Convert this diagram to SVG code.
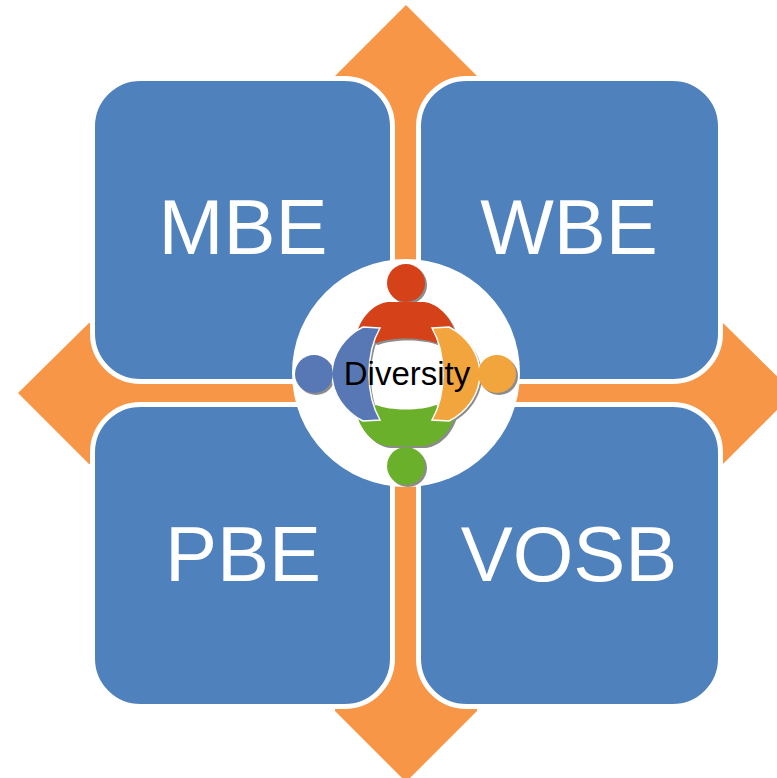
<svg xmlns="http://www.w3.org/2000/svg" width="777" height="778" viewBox="0 0 777 778">
<style>
.box{fill:#4F81BD;stroke:#FFFFFF;stroke-width:5}
.lbl{font-family:"Liberation Sans",Arial,sans-serif;font-size:78px;fill:#FFFFFF;text-anchor:middle}
.arrow{fill:#F79646}
.shadow{fill:#8C8C8C}
.div{font-family:"Liberation Sans",Arial,sans-serif;font-size:33px;fill:#000000;text-anchor:middle}
</style>
<defs>
<path id="bodyTop" d="M -50,-38 C -46,-55 -34,-70 -18,-72 L 18,-72 C 34,-70 46,-55 50,-38 L 30,-31 C 15,-37 -15,-37 -30,-31 Z"/>
<path id="bodyBottom" d="M -50,38 C -46,55 -34,70 -18,72 L 18,72 C 34,70 46,55 50,38 L 30,31 C 15,37 -15,37 -30,31 Z"/>
<path id="bodyLeft" d="M -26,-46 L -43,-47 C -61,-38 -74,-20 -74,0 C -74,20 -61,38 -43,47 L -26,46 C -34,32 -37,14 -37,0 C -37,-14 -34,-32 -26,-46 Z"/>
<path id="bodyRight" d="M 26,-46 L 43,-47 C 61,-38 74,-20 74,0 C 74,20 61,38 43,47 L 26,46 C 34,32 37,14 37,0 C 37,-14 34,-32 26,-46 Z"/>
</defs>
<rect width="777" height="778" fill="#FFFFFF"/>
<g id="arrows">
<path class="arrow" d="M 406,5 L 477,76 L 477,150 L 421,150 L 421,379 L 650,379 L 650,323 L 723,323 L 794,393 L 723,464 L 650,464 L 650,407 L 421,407 L 421,640 L 477,640 L 477,711 L 406,782 L 335,711 L 335,640 L 390,640 L 390,407 L 160,407 L 160,464 L 89,464 L 18,393 L 89,323 L 160,323 L 160,379 L 390,379 L 390,150 L 335,150 L 335,76 Z"/>
</g>
<g id="mbe">
<rect class="box" x="92.5" y="78.5" width="300" height="303" rx="48" ry="48"/>
<text class="lbl" x="243" y="254">MBE</text>
</g>
<g id="wbe">
<rect class="box" x="418.5" y="78.5" width="302" height="303" rx="48" ry="48"/>
<text class="lbl" x="569" y="254">WBE</text>
</g>
<g id="pbe">
<rect class="box" x="92.5" y="404.5" width="300" height="302" rx="48" ry="48"/>
<text class="lbl" x="243" y="581">PBE</text>
</g>
<g id="vosb">
<rect class="box" x="418.5" y="404.5" width="302" height="302" rx="48" ry="48"/>
<text class="lbl" x="569" y="581">VOSB</text>
</g>
<g id="diversity">
<circle cx="406" cy="373" r="114" fill="#FFFFFF"/>
<g transform="translate(408,376)" class="shadow">
<use href="#bodyTop"/>
<use href="#bodyBottom"/>
<use href="#bodyLeft"/>
<use href="#bodyRight"/>
<circle cx="0" cy="-91" r="19"/>
<circle cx="0" cy="92" r="19"/>
<circle cx="-92" cy="0" r="19"/>
<circle cx="91" cy="0" r="19"/>
</g>
<g transform="translate(406,374)">
<use href="#bodyTop" fill="#D5421A"/>
<use href="#bodyBottom" fill="#6BB02A"/>
<use href="#bodyLeft" fill="#5877B5" stroke="#FFFFFF" stroke-width="1.5"/>
<use href="#bodyRight" fill="#F2A53C" stroke="#FFFFFF" stroke-width="1.5"/>
<circle cx="0" cy="-91" r="19" fill="#D5421A"/>
<circle cx="0" cy="92" r="19" fill="#6BB02A"/>
<circle cx="-92" cy="0" r="19" fill="#5877B5"/>
<circle cx="91" cy="0" r="19" fill="#F2A53C"/>
</g>
<text class="div" x="407" y="385">Diversity</text>
</g>
</svg>
